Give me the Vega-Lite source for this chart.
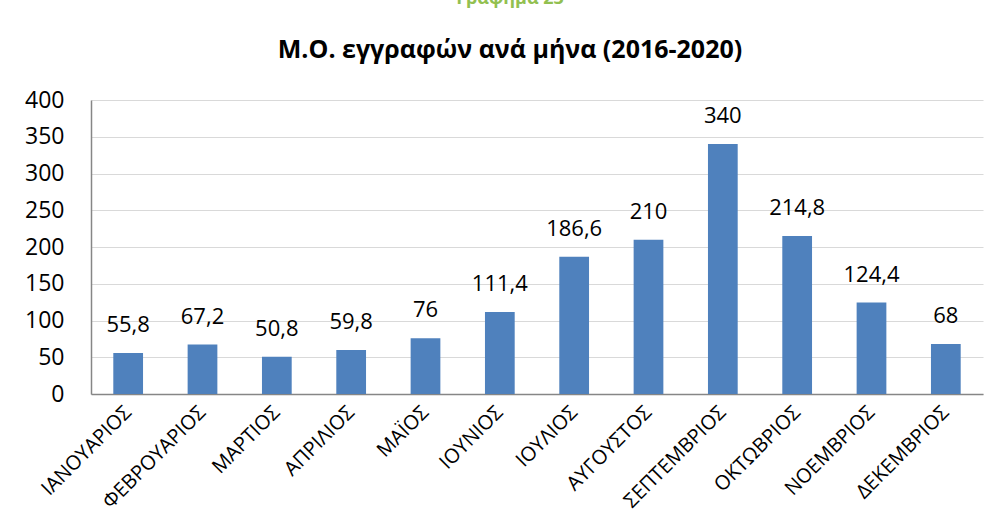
{
  "$schema": "https://vega.github.io/schema/vega-lite/v6.json",
  "autosize": "none",
  "width": 892,
  "height": 294,
  "padding": {"left": 91, "top": 100, "right": 15, "bottom": 128},
  "background": "white",
  "title": {
    "text": "Γράφημα 23",
    "subtitle": "Μ.Ο. εγγραφών ανά μήνα (2016-2020)",
    "anchor": "middle",
    "dx": -27,
    "offset": 26,
    "font": "Open Sans",
    "fontSize": 18,
    "fontWeight": "bold",
    "color": "#92c050",
    "subtitleFont": "Open Sans",
    "subtitleFontSize": 25,
    "subtitleFontWeight": "bold",
    "subtitleColor": "#000000",
    "subtitlePadding": 30
  },
  "config": {
    "locale": {"number": {"decimal": ",", "thousands": ".", "grouping": [3], "currency": ["", " €"]}},
    "view": {"stroke": null},
    "font": "Open Sans"
  },
  "data": {
    "values": [
      {"month": "ΙΑΝΟΥΑΡΙΟΣ", "value": 55.8},
      {"month": "ΦΕΒΡΟΥΑΡΙΟΣ", "value": 67.2},
      {"month": "ΜΑΡΤΙΟΣ", "value": 50.8},
      {"month": "ΑΠΡΙΛΙΟΣ", "value": 59.8},
      {"month": "ΜΑΪΟΣ", "value": 76},
      {"month": "ΙΟΥΝΙΟΣ", "value": 111.4},
      {"month": "ΙΟΥΛΙΟΣ", "value": 186.6},
      {"month": "ΑΥΓΟΥΣΤΟΣ", "value": 210},
      {"month": "ΣΕΠΤΕΜΒΡΙΟΣ", "value": 340},
      {"month": "ΟΚΤΩΒΡΙΟΣ", "value": 214.8},
      {"month": "ΝΟΕΜΒΡΙΟΣ", "value": 124.4},
      {"month": "ΔΕΚΕΜΒΡΙΟΣ", "value": 68}
    ]
  },
  "encoding": {
    "x": {
      "field": "month",
      "type": "nominal",
      "sort": null,
      "scale": {"paddingInner": 0.6, "paddingOuter": 0.3},
      "axis": {
        "title": null,
        "labelAngle": -45,
        "labelAlign": "right",
        "labelBaseline": "middle",
        "labelFont": "Open Sans",
        "labelFontSize": 20,
        "labelColor": "#000000",
        "labelPadding": 15,
        "ticks": false,
        "domainColor": "#868686",
        "domainWidth": 1.5
      }
    },
    "y": {
      "field": "value",
      "type": "quantitative",
      "scale": {"domain": [0, 400]},
      "axis": {
        "title": null,
        "values": [0, 50, 100, 150, 200, 250, 300, 350, 400],
        "labelFont": "Open Sans",
        "labelFontSize": 23,
        "labelColor": "#000000",
        "labelPadding": 27,
        "ticks": false,
        "gridColor": "#d9d9d9",
        "gridWidth": 1,
        "domainColor": "#868686",
        "domainWidth": 1.5
      }
    }
  },
  "layer": [
    {"mark": {"type": "bar", "color": "#4f81bd"}},
    {
      "mark": {"type": "text", "baseline": "middle", "dy": -28, "fontSize": 22, "font": "Open Sans", "color": "#000000"},
      "encoding": {"text": {"field": "value", "type": "quantitative", "format": ".1~f"}}
    }
  ]
}
